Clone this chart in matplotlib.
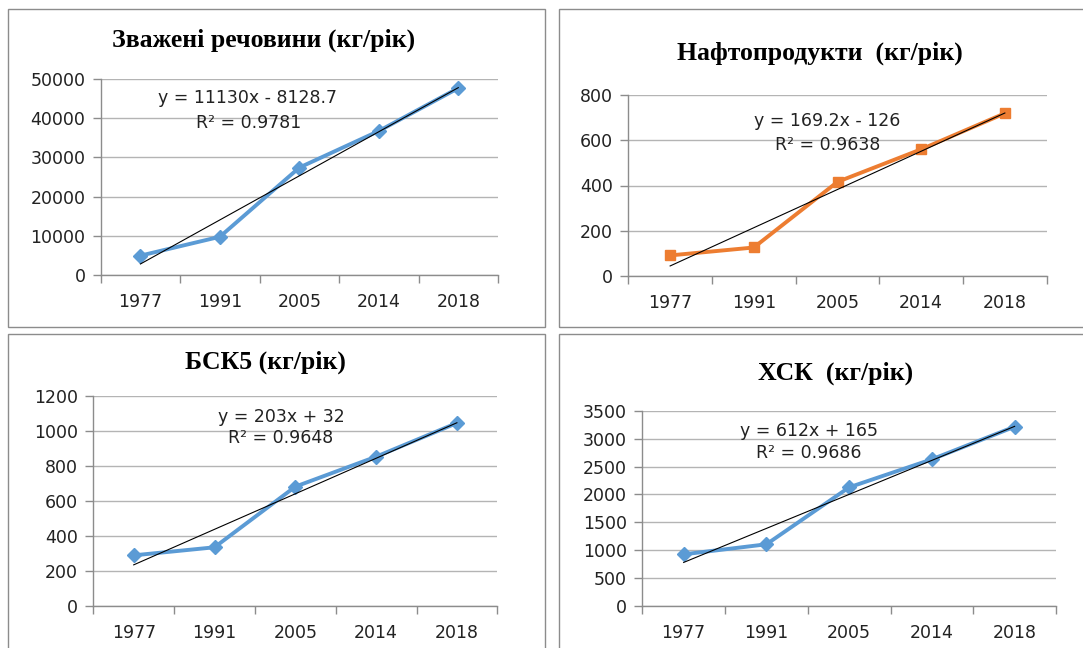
import numpy as np
import matplotlib.pyplot as plt
from matplotlib.patches import Rectangle

years = ['1977', '1991', '2005', '2014', '2018']

zvazheni = [5000, 9800, 27400, 36700, 47600]
naftoprod = [91, 126, 416, 560, 719]
bsk5 = [289, 335, 681, 852, 1044]
hsk = [926, 1106, 2127, 2629, 3213]

titles = ['Зважені речовини (кг/рік)', 'Нафтопродукти  (кг/рік)',
          'БСК5 (кг/рік)', 'ХСК  (кг/рік)']
equations = ['y = 11130x - 8128.7', 'y = 169.2x - 126',
             'y = 203x + 32', 'y = 612x + 165']
r2_labels = ['R² = 0.9781', 'R² = 0.9638', 'R² = 0.9648', 'R² = 0.9686']
y_max = [50000, 800, 1200, 3500]
y_step = [10000, 200, 200, 500]

W, H = 1083, 648
BLUE = '#5B9BD5'
ORANGE = '#ED7D31'
TXT = 12.5

fig = plt.figure(figsize=(W / 100, H / 100), dpi=100)

def px_box(l, r, t, b):
    return [l / W, 1 - b / H, (r - l) / W, (b - t) / H]

# panel frames (pixel coords, y from top)
frames = [(8, 545, 9, 327), (559, 1090, 9, 327), (8, 545, 334, 660), (559, 1090, 334, 660)]
for l, r, t, b in frames:
    fig.patches.append(Rectangle((l / W, 1 - b / H), (r - l) / W, (b - t) / H,
                                 transform=fig.transFigure, fill=False,
                                 edgecolor='#8C8C8C', linewidth=1.0))

axes_px = [(100.7, 498, 78.7, 275.3), (628.3, 1046.7, 95, 276),
           (93.3, 497.3, 395.7, 606), (642.3, 1056, 410.7, 606)]
title_px = [(264, 40), (820, 53), (265, 362), (836, 373)]
eq_px = [((248, 98), (249, 123)), ((827, 121), (828, 145)),
         ((281, 417), (281, 438)), ((809, 431), (809, 453))]

series = [zvazheni, naftoprod, bsk5, hsk]
colors = [BLUE, ORANGE, BLUE, BLUE]
markers = ['D', 's', 'D', 'D']

for i in range(4):
    ax = fig.add_axes(px_box(*axes_px[i]))
    vals = np.array(series[i], dtype=float)
    x = np.arange(len(years))

    ax.plot(x, vals, color=colors[i], linewidth=2.8, marker=markers[i],
            markersize=7.5 if markers[i] == 's' else 7, zorder=3)

    # linear trend (Excel style, x = 1..5)
    coef = np.polyfit(x + 1, vals, 1)
    ax.plot(x, np.polyval(coef, x + 1), color='black', linewidth=0.8, zorder=4)

    ax.set_xlim(-0.5, len(years) - 0.5)
    ax.set_ylim(0, y_max[i])
    ax.set_yticks(np.arange(0, y_max[i] + 1, y_step[i]))
    ax.set_xticks(x)
    ax.set_xticklabels(years)
    ax.set_xticks(np.arange(-0.5, len(years)), minor=True)
    ax.tick_params(axis='x', which='major', length=0, pad=13,
                   labelsize=TXT, labelcolor='#222222')
    ax.tick_params(axis='x', which='minor', length=6, color='#8C8C8C', width=1)
    ax.tick_params(axis='y', length=6, color='#8C8C8C', width=1, pad=5,
                   labelsize=TXT, labelcolor='#222222')

    ax.grid(axis='y', color='#B4B4B4', linewidth=1)
    ax.set_axisbelow(True)
    for s in ['top', 'right']:
        ax.spines[s].set_visible(False)
    for s in ['left', 'bottom']:
        ax.spines[s].set_color('#8C8C8C')
        ax.spines[s].set_linewidth(1)

    tx, ty = title_px[i]
    fig.text(tx / W, 1 - ty / H, titles[i], ha='center', va='center',
             fontsize=18.5, fontweight='bold', family='Liberation Serif')
    (ex, ey), (rx, ry) = eq_px[i]
    fig.text(ex / W, 1 - ey / H, equations[i], ha='center', va='center',
             fontsize=TXT, color='#222222')
    fig.text(rx / W, 1 - ry / H, r2_labels[i], ha='center', va='center',
             fontsize=TXT, color='#222222')

fig.savefig('out.png', dpi=100)
